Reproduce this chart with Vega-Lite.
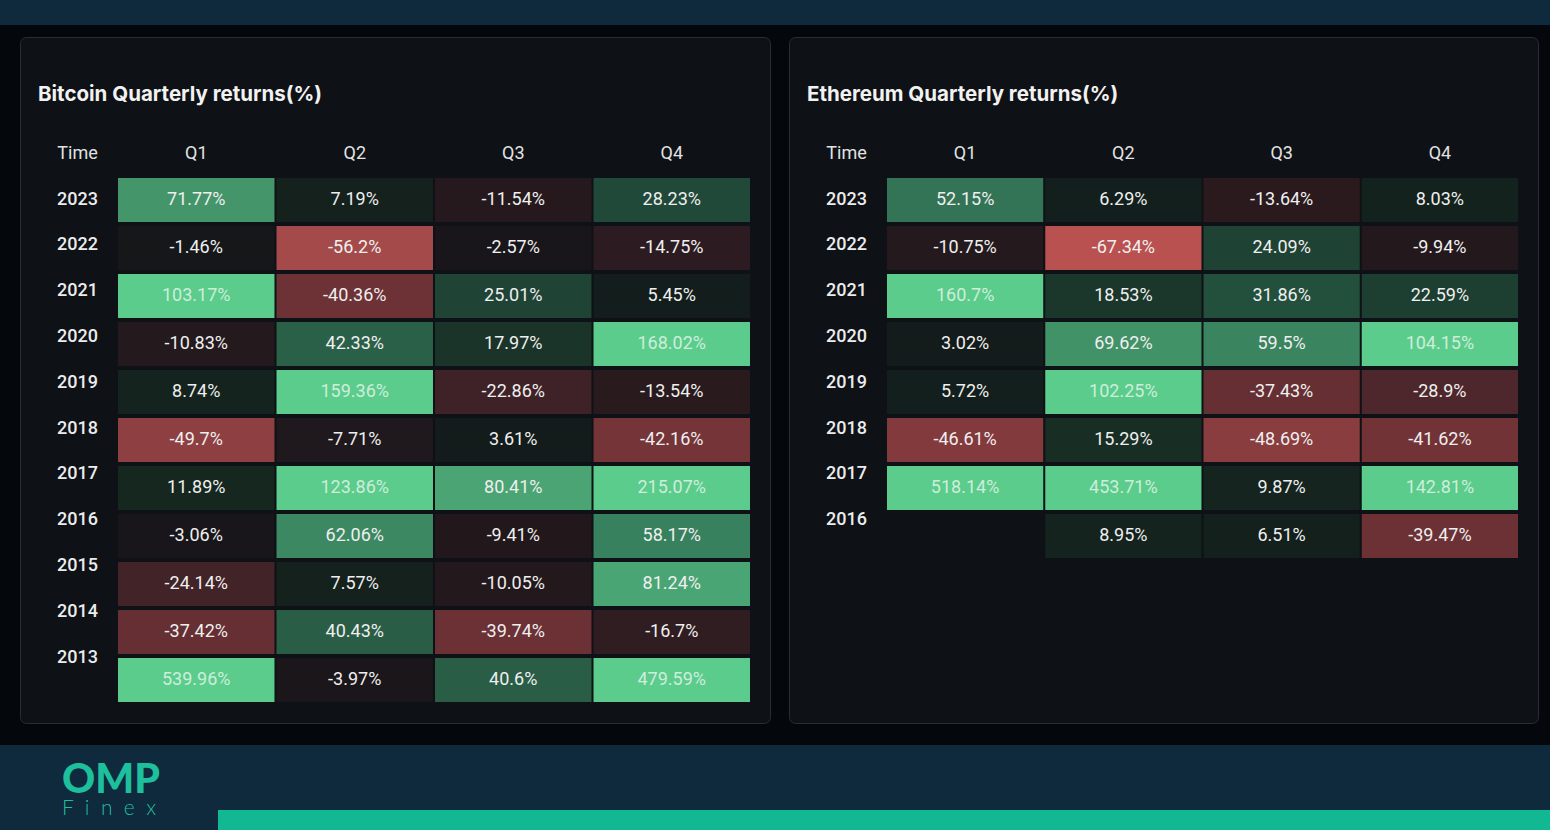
{
  "$schema": "https://vega.github.io/schema/vega-lite/v6.json",
  "background": "#04070b",
  "padding": 0,
  "spacing": 0,
  "config": {
    "view": {"stroke": null},
    "locale": {"number": {"decimal": ".", "thousands": ",", "grouping": [3], "currency": ["$", ""], "minus": "-"}},
    "axis": {"grid": false, "domain": false, "ticks": false, "tickSize": 0}
  },
  "datasets": {
    "btc": [
      {"y": "2023", "q": "Q1", "v": 0.7177}, {"y": "2023", "q": "Q2", "v": 0.0719}, {"y": "2023", "q": "Q3", "v": -0.1154}, {"y": "2023", "q": "Q4", "v": 0.2823},
      {"y": "2022", "q": "Q1", "v": -0.0146}, {"y": "2022", "q": "Q2", "v": -0.562}, {"y": "2022", "q": "Q3", "v": -0.0257}, {"y": "2022", "q": "Q4", "v": -0.1475},
      {"y": "2021", "q": "Q1", "v": 1.0317}, {"y": "2021", "q": "Q2", "v": -0.4036}, {"y": "2021", "q": "Q3", "v": 0.2501}, {"y": "2021", "q": "Q4", "v": 0.0545},
      {"y": "2020", "q": "Q1", "v": -0.1083}, {"y": "2020", "q": "Q2", "v": 0.4233}, {"y": "2020", "q": "Q3", "v": 0.1797}, {"y": "2020", "q": "Q4", "v": 1.6802},
      {"y": "2019", "q": "Q1", "v": 0.0874}, {"y": "2019", "q": "Q2", "v": 1.5936}, {"y": "2019", "q": "Q3", "v": -0.2286}, {"y": "2019", "q": "Q4", "v": -0.1354},
      {"y": "2018", "q": "Q1", "v": -0.497}, {"y": "2018", "q": "Q2", "v": -0.0771}, {"y": "2018", "q": "Q3", "v": 0.0361}, {"y": "2018", "q": "Q4", "v": -0.4216},
      {"y": "2017", "q": "Q1", "v": 0.1189}, {"y": "2017", "q": "Q2", "v": 1.2386}, {"y": "2017", "q": "Q3", "v": 0.8041}, {"y": "2017", "q": "Q4", "v": 2.1507},
      {"y": "2016", "q": "Q1", "v": -0.0306}, {"y": "2016", "q": "Q2", "v": 0.6206}, {"y": "2016", "q": "Q3", "v": -0.0941}, {"y": "2016", "q": "Q4", "v": 0.5817},
      {"y": "2015", "q": "Q1", "v": -0.2414}, {"y": "2015", "q": "Q2", "v": 0.0757}, {"y": "2015", "q": "Q3", "v": -0.1005}, {"y": "2015", "q": "Q4", "v": 0.8124},
      {"y": "2014", "q": "Q1", "v": -0.3742}, {"y": "2014", "q": "Q2", "v": 0.4043}, {"y": "2014", "q": "Q3", "v": -0.3974}, {"y": "2014", "q": "Q4", "v": -0.167},
      {"y": "2013", "q": "Q1", "v": 5.3996}, {"y": "2013", "q": "Q2", "v": -0.0397}, {"y": "2013", "q": "Q3", "v": 0.406}, {"y": "2013", "q": "Q4", "v": 4.7959}
    ],
    "eth": [
      {"y": "2023", "q": "Q1", "v": 0.5215}, {"y": "2023", "q": "Q2", "v": 0.0629}, {"y": "2023", "q": "Q3", "v": -0.1364}, {"y": "2023", "q": "Q4", "v": 0.0803},
      {"y": "2022", "q": "Q1", "v": -0.1075}, {"y": "2022", "q": "Q2", "v": -0.6734}, {"y": "2022", "q": "Q3", "v": 0.2409}, {"y": "2022", "q": "Q4", "v": -0.0994},
      {"y": "2021", "q": "Q1", "v": 1.607}, {"y": "2021", "q": "Q2", "v": 0.1853}, {"y": "2021", "q": "Q3", "v": 0.3186}, {"y": "2021", "q": "Q4", "v": 0.2259},
      {"y": "2020", "q": "Q1", "v": 0.0302}, {"y": "2020", "q": "Q2", "v": 0.6962}, {"y": "2020", "q": "Q3", "v": 0.595}, {"y": "2020", "q": "Q4", "v": 1.0415},
      {"y": "2019", "q": "Q1", "v": 0.0572}, {"y": "2019", "q": "Q2", "v": 1.0225}, {"y": "2019", "q": "Q3", "v": -0.3743}, {"y": "2019", "q": "Q4", "v": -0.289},
      {"y": "2018", "q": "Q1", "v": -0.4661}, {"y": "2018", "q": "Q2", "v": 0.1529}, {"y": "2018", "q": "Q3", "v": -0.4869}, {"y": "2018", "q": "Q4", "v": -0.4162},
      {"y": "2017", "q": "Q1", "v": 5.1814}, {"y": "2017", "q": "Q2", "v": 4.5371}, {"y": "2017", "q": "Q3", "v": 0.0987}, {"y": "2017", "q": "Q4", "v": 1.4281},
      {"y": "2016", "q": "Q2", "v": 0.0895}, {"y": "2016", "q": "Q3", "v": 0.0651}, {"y": "2016", "q": "Q4", "v": -0.3947}
    ]
  },
  "vconcat": [
    {"width": 1550, "height": 25, "data": {"values": []}, "mark": "rect", "view": {"fill": "#0f293d", "stroke": null}},
    {"width": 1, "height": 11, "data": {"values": []}, "mark": "rect", "view": {"fill": "#04070b", "stroke": null}},
    {
      "hconcat": [
        {"width": 2, "height": 686, "data": {"values": []}, "mark": "rect", "view": {"fill": "#04070b", "stroke": null}},
        {
          "width": 750, "height": 686,
          "view": {"fill": "#0e1115", "stroke": "#2a2d31", "strokeWidth": 1, "cornerRadius": 6},
          "title": {"text": "Bitcoin Quarterly returns(%)", "anchor": "start", "frame": "group", "dx": 18, "offset": -68, "font": "Inter", "fontSize": 20.5, "fontWeight": 700, "color": "#f2f2f2"},
          "data": {"name": "btc"},
          "layer": [
            {
              "layer": [
                {
                  "mark": {"type": "rect"},
                  "encoding": {
                    "x": {"field": "q", "type": "ordinal", "scale": {"type": "band", "domain": ["Q1", "Q2", "Q3", "Q4"], "range": [98, 730], "paddingInner": 0.0127, "paddingOuter": 0},
                      "axis": {"orient": "top", "offset": -116, "labelPadding": 0, "labelBaseline": "middle", "labelAngle": 0, "labelFont": "Roboto", "labelFontSize": 18, "labelColor": "#e2e2e2", "title": null}},
                    "y": {"field": "y", "type": "ordinal", "scale": {"type": "band", "domain": ["2023", "2022", "2021", "2020", "2019", "2018", "2017", "2016", "2015", "2014", "2013"], "range": [141, 665], "paddingInner": 0.0833, "paddingOuter": 0}, "axis": null},
                    "color": {"field": "v", "type": "quantitative", "legend": null,
                      "scale": {"type": "linear", "clamp": true, "interpolate": "rgb",
                        "domain": [-0.67, -0.56, -0.5, -0.4, -0.23, -0.12, -0.03, 0, 0.06, 0.12, 0.25, 0.42, 0.6, 0.72, 0.81, 1.0],
                        "range": ["#ba5151", "#a44a4b", "#8f3f41", "#6c3135", "#3e2227", "#26191d", "#18161a", "#151719", "#131f1c", "#16271f", "#1f4435", "#2a5f48", "#3a8560", "#44956a", "#4aa574", "#5bcc8b"]}}
                  }
                },
                {
                  "mark": {"type": "text", "font": "Roboto", "fontSize": 18, "align": "center", "baseline": "middle"},
                  "encoding": {
                    "x": {"field": "q", "type": "ordinal", "band": 0.5},
                    "y": {"field": "y", "type": "ordinal", "band": 0.5},
                    "text": {"field": "v", "type": "quantitative", "format": ".2~%"},
                    "color": {"condition": {"test": "datum.v >= 0.9", "value": "#cdeedb"}, "value": "#efefef"}
                  }
                }
              ]
            },
            {
              "mark": {"type": "text", "text": ""},
              "encoding": {
                "y": {"field": "y", "type": "ordinal",
                  "scale": {"type": "point", "domain": ["2023", "2022", "2021", "2020", "2019", "2018", "2017", "2016", "2015", "2014", "2013"], "range": [162, 620], "padding": 0},
                  "axis": {"orient": "left", "offset": -57, "labelPadding": 0, "labelAlign": "center", "labelBaseline": "middle", "labelFont": "Roboto", "labelFontSize": 18, "labelFontWeight": 500, "labelColor": "#ececec", "labelOverlap": false,
                    "title": "Time", "titleAngle": 0, "titleX": 0, "titleY": 116, "titleAlign": "center", "titleBaseline": "middle", "titleFont": "Roboto", "titleFontSize": 18, "titleFontWeight": "normal", "titleColor": "#e2e2e2"}}
              }
            }
          ],
          "resolve": {"scale": {"y": "independent"}}
        },
        {
          "width": 749, "height": 686,
          "view": {"fill": "#0e1115", "stroke": "#2a2d31", "strokeWidth": 1, "cornerRadius": 6},
          "title": {"text": "Ethereum Quarterly returns(%)", "anchor": "start", "frame": "group", "dx": 18, "offset": -68, "font": "Inter", "fontSize": 20.5, "fontWeight": 700, "color": "#f2f2f2"},
          "data": {"name": "eth"},
          "layer": [
            {
              "layer": [
                {
                  "mark": {"type": "rect"},
                  "encoding": {
                    "x": {"field": "q", "type": "ordinal", "scale": {"type": "band", "domain": ["Q1", "Q2", "Q3", "Q4"], "range": [98, 729], "paddingInner": 0.0127, "paddingOuter": 0},
                      "axis": {"orient": "top", "offset": -116, "labelPadding": 0, "labelBaseline": "middle", "labelAngle": 0, "labelFont": "Roboto", "labelFontSize": 18, "labelColor": "#e2e2e2", "title": null}},
                    "y": {"field": "y", "type": "ordinal", "scale": {"type": "band", "domain": ["2023", "2022", "2021", "2020", "2019", "2018", "2017", "2016"], "range": [141, 521], "paddingInner": 0.0833, "paddingOuter": 0}, "axis": null},
                    "color": {"field": "v", "type": "quantitative", "legend": null,
                      "scale": {"type": "linear", "clamp": true, "interpolate": "rgb",
                        "domain": [-0.67, -0.56, -0.5, -0.4, -0.23, -0.12, -0.03, 0, 0.06, 0.12, 0.25, 0.42, 0.6, 0.72, 0.81, 1.0],
                        "range": ["#ba5151", "#a44a4b", "#8f3f41", "#6c3135", "#3e2227", "#26191d", "#18161a", "#151719", "#131f1c", "#16271f", "#1f4435", "#2a5f48", "#3a8560", "#44956a", "#4aa574", "#5bcc8b"]}}
                  }
                },
                {
                  "mark": {"type": "text", "font": "Roboto", "fontSize": 18, "align": "center", "baseline": "middle"},
                  "encoding": {
                    "x": {"field": "q", "type": "ordinal", "band": 0.5},
                    "y": {"field": "y", "type": "ordinal", "band": 0.5},
                    "text": {"field": "v", "type": "quantitative", "format": ".2~%"},
                    "color": {"condition": {"test": "datum.v >= 0.9", "value": "#cdeedb"}, "value": "#efefef"}
                  }
                }
              ]
            },
            {
              "mark": {"type": "text", "text": ""},
              "encoding": {
                "y": {"field": "y", "type": "ordinal",
                  "scale": {"type": "point", "domain": ["2023", "2022", "2021", "2020", "2019", "2018", "2017", "2016"], "range": [162, 482.6], "padding": 0},
                  "axis": {"orient": "left", "offset": -57, "labelPadding": 0, "labelAlign": "center", "labelBaseline": "middle", "labelFont": "Roboto", "labelFontSize": 18, "labelFontWeight": 500, "labelColor": "#ececec", "labelOverlap": false,
                    "title": "Time", "titleAngle": 0, "titleX": 0, "titleY": 116, "titleAlign": "center", "titleBaseline": "middle", "titleFont": "Roboto", "titleFontSize": 18, "titleFontWeight": "normal", "titleColor": "#e2e2e2"}}
              }
            }
          ],
          "resolve": {"scale": {"y": "independent"}}
        }
      ],
      "spacing": 17
    },
    {"width": 1, "height": 21, "data": {"values": []}, "mark": "rect", "view": {"fill": "#04070b", "stroke": null}},
    {
      "hconcat": [
        {
          "width": 218, "height": 85, "data": {"values": []}, "mark": "rect",
          "view": {"fill": "#0f293d", "stroke": null},
          "title": {"text": "OMP", "subtitle": "F\u00a0\u00a0i\u00a0\u00a0n\u00a0\u00a0e\u00a0\u00a0x", "anchor": "start", "frame": "group", "dx": 62, "offset": -75,
            "font": "Lato", "fontSize": 41, "fontWeight": 900, "color": "#1dbf9c",
            "subtitleFont": "Lato", "subtitleFontSize": 21, "subtitleFontWeight": 300, "subtitleColor": "#1dbf9c", "subtitlePadding": -4}
        },
        {
          "vconcat": [
            {"width": 1332, "height": 65, "data": {"values": []}, "mark": "rect", "view": {"fill": "#0f293d", "stroke": null}},
            {"width": 1332, "height": 20, "data": {"values": []}, "mark": "rect", "view": {"fill": "#12b891", "stroke": null}}
          ],
          "spacing": 0
        }
      ],
      "spacing": 0
    }
  ]
}
